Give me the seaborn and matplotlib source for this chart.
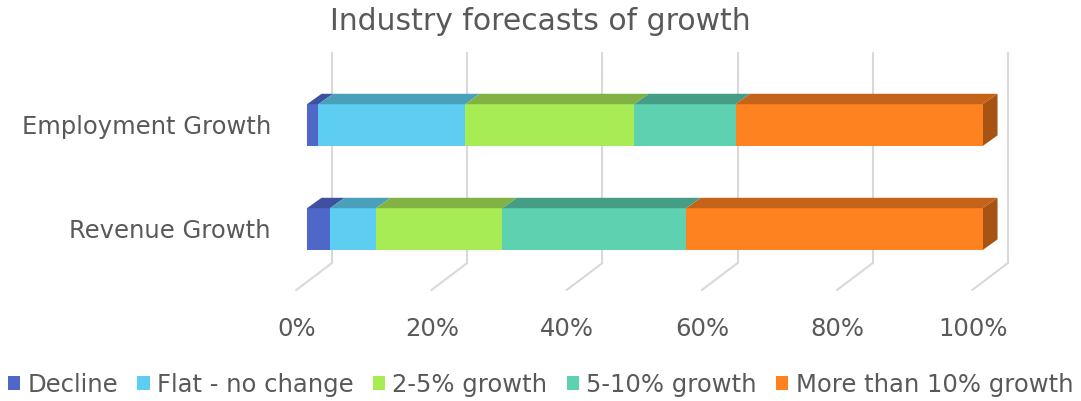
import pandas as pd
import seaborn as sns
import matplotlib.pyplot as plt
from matplotlib.patches import Polygon, Patch

# data (percent of respondents)
categories = ['Employment Growth', 'Revenue Growth']
series = ['Decline', 'Flat - no change', '2-5% growth', '5-10% growth', 'More than 10% growth']
decline = [1.7, 3.4]
flat = [21.7, 6.8]
growth_2_5 = [25.0, 18.7]
growth_5_10 = [15.0, 27.2]
growth_10_plus = [36.6, 43.9]
tick_values = [0, 20, 40, 60, 80, 100]
tick_labels = ['0%', '20%', '40%', '60%', '80%', '100%']

front = ['#4f67c8', '#5ecdf2', '#a7eb55', '#5ed1b0', '#ff8221']
top = ['#3d519f', '#4a9fba', '#82b243', '#459d86', '#c5631a']
side = '#a65314'
text_color = '#595959'
grid_color = '#d9d9d9'

df = pd.DataFrame({'category': categories, series[0]: decline, series[1]: flat,
                   series[2]: growth_2_5, series[3]: growth_5_10, series[4]: growth_10_plus})
cum = df[series].cumsum(axis=1)

sns.set_theme(style='white')
plt.rcParams['font.family'] = ['DejaVu Sans']

fig = plt.figure(figsize=(10.81, 4.01), dpi=100)
ax = fig.add_axes([307 / 1081, 1 - 263 / 401, 676 / 1081, 210 / 401])

y_lo, y_hi = 1.327, -0.692
bar_w = 0.4
back = 3.7     # back wall offset (x data units)
dx, dy = 2.15, 0.1   # depth of the bars

# back wall gridlines + floor diagonals
for t in tick_values:
    ax.plot([t + back, t + back], [y_lo, y_hi], color=grid_color, lw=1.5, zorder=0, clip_on=False)
    ax.plot([t + back, t - 1.6], [y_lo, 1.587], color=grid_color, lw=1.5, zorder=0, clip_on=False)

# stacked bars: draw cumulative totals from the largest down
for i in reversed(range(len(series))):
    sns.barplot(x=cum[series[i]], y=df['category'], color=front[i], width=bar_w,
                orient='h', saturation=1, linewidth=0, ax=ax, zorder=2)

# fake 3d: top faces and right side face
for j in range(len(categories)):
    y_top = j - bar_w / 2
    left = 0
    for i, s in enumerate(series):
        right = cum.loc[j, s]
        ax.add_patch(Polygon([(left, y_top), (right, y_top), (right + dx, y_top - dy),
                              (left + dx, y_top - dy)], closed=True, facecolor=top[i],
                             edgecolor='none', zorder=3, clip_on=False))
        left = right
    ax.add_patch(Polygon([(left, y_top), (left + dx, y_top - dy), (left + dx, y_top + bar_w - dy),
                          (left, y_top + bar_w)], closed=True, facecolor=side,
                         edgecolor='none', zorder=3, clip_on=False))

ax.set_xlim(0, 100)
ax.set_ylim(y_lo, y_hi)
ax.set_xticks([])
for t, lab in zip(tick_values, tick_labels):
    ax.text(t - 1.5, 1.96, lab, ha='center', va='center', fontsize=17.5, color=text_color)
for sp in ax.spines.values():
    sp.set_visible(False)
ax.set_xlabel('')
ax.set_ylabel('')
ax.tick_params(axis='y', colors=text_color, labelsize=17.5, pad=26, length=0)

fig.text(0.5, 1 - 22 / 401, 'Industry forecasts of growth', ha='center', va='center',
         fontsize=21.5, color=text_color)

handles = [Patch(facecolor=c, edgecolor='none') for c in front]
fig.legend(handles, series, loc='center', bbox_to_anchor=(0.5, 1 - 385 / 401), ncol=5,
           frameon=False, fontsize=17.5, handlelength=0.5, handleheight=0.5,
           handletextpad=0.3, columnspacing=0.8, labelcolor=text_color)

fig.savefig('out.png', dpi=100)
